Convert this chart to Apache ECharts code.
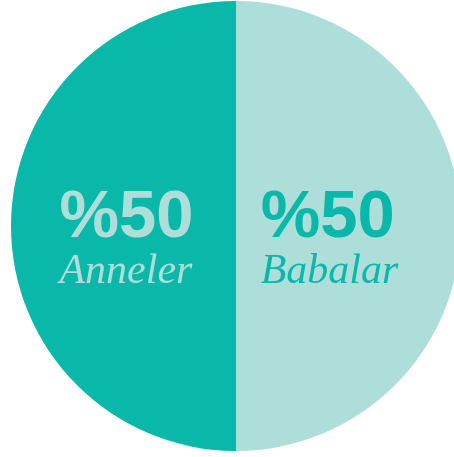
<!DOCTYPE html>
<html>
<head>
<meta charset="utf-8">
<script src="https://cdn.jsdelivr.net/npm/echarts@6/dist/echarts.min.js"></script>
<style>
  html, body { margin: 0; padding: 0; background: #fff; }
  #chart { width: 454px; height: 457px; }
</style>
</head>
<body>
<div id="chart"></div>
<script>
// data
const categories = ['Babalar', 'Anneler']
const values = [50, 50]
const sliceColors = ['#addeda', '#0ab8aa']
const labelColors = ['#0ab8aa', '#addeda']

const chart = echarts.init(document.getElementById('chart'))

const seriesData = categories.map((name, i) => {
  return {
    name: name,
    value: values[i],
    itemStyle: { color: sliceColors[i] },
    label: {
      color: labelColors[i],
      // satırlar sola hizalı
      offset: i === 0 ? [-22, 15] : [6, 15],
      rich: {
        pct: {
          fontFamily: 'Liberation Sans',
          fontWeight: 'bold',
          fontSize: 67,
          lineHeight: 62,
          align: 'left',
          color: labelColors[i],
        },
        name: {
          fontFamily: 'Liberation Serif',
          fontStyle: 'italic',
          fontSize: 42,
          lineHeight: 44,
          align: 'left',
          color: labelColors[i],
        },
      },
    },
  }
})

chart.setOption({
  animation: false,
  series: [
    {
      type: 'pie',
      center: [236, 226],
      radius: [0, 225],
      startAngle: 90,
      clockwise: true,
      silent: true,
      label: {
        show: true,
        position: 'inner',
        formatter: p => '{pct|%' + p.value + '}\n{name|' + p.name + '}',
      },
      labelLine: { show: false },
      data: seriesData,
    },
  ],
})
</script>
</body>
</html>
